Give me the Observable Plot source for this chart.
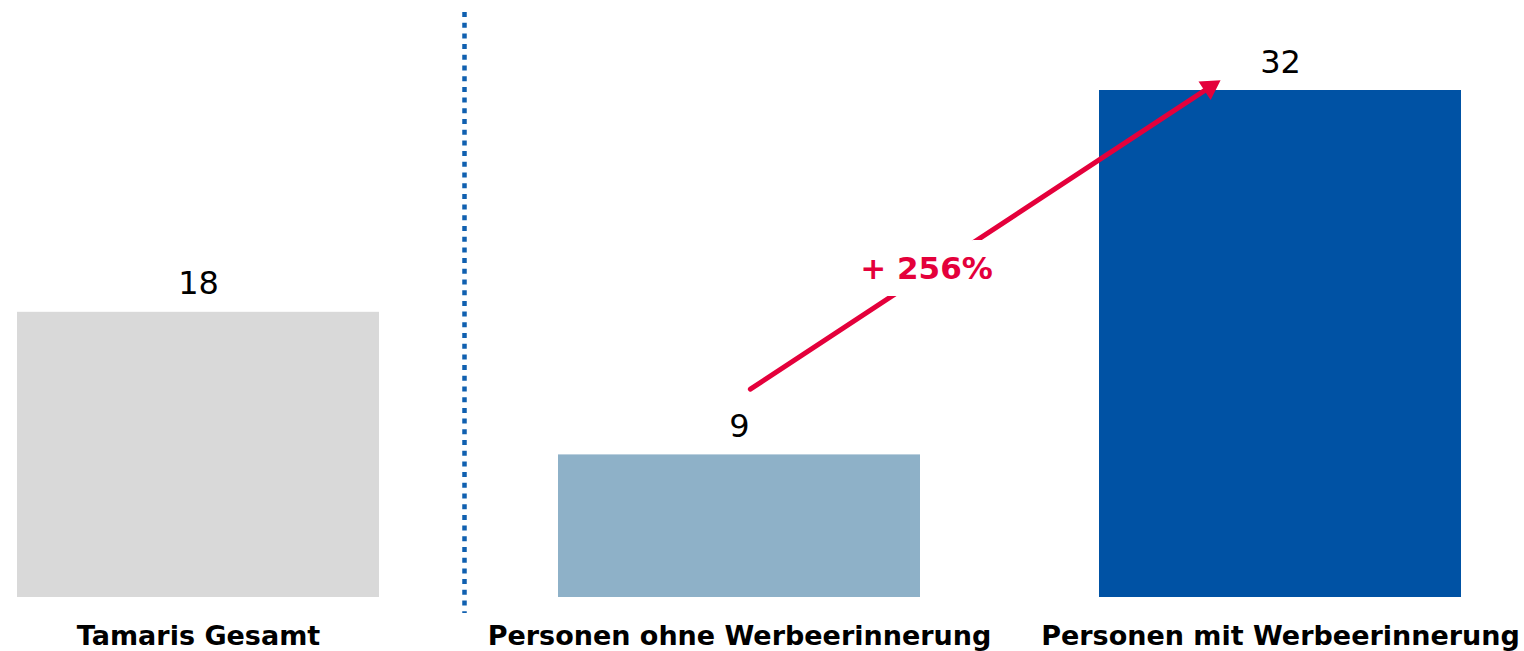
<!DOCTYPE html>
<html>
<head>
<meta charset="utf-8">
<script src="https://cdn.jsdelivr.net/npm/d3@7"></script>
<script src="https://cdn.jsdelivr.net/npm/@observablehq/plot@0.6"></script>
<style>
  html, body { margin: 0; padding: 0; background: #fff; }
  #chart svg { display: block; }
</style>
</head>
<body>
<div id="chart"></div>
<script>
const categories = ["Tamaris Gesamt", "Personen ohne Werbeerinnerung", "Personen mit Werbeerinnerung"];
const values = [18, 9, 32];
const barColors = ["#d9d9d9", "#8eb1c8", "#0052a4"];
const changeLabel = "+ 256%";
// arrow endpoints (value units)
const arrowFrom = {cat: categories[1], value: 12.7};
const arrowTo = {cat: categories[2], value: 35.15};
const changeLabelValue = 20.7;
const arrowHeadValue = 32.2;

const data = categories.map((c, i) => ({cat: c, value: values[i], color: barColors[i]}));

const chart = Plot.plot({
  width: 1524,
  height: 651,
  marginLeft: 16,
  marginRight: 63,
  marginTop: 90,
  marginBottom: 54,
  style: {fontFamily: "DejaVu Sans", color: "#000", background: "#fff"},
  x: {domain: categories, paddingInner: 0.331, paddingOuter: 0, align: 0.5, label: null},
  y: {domain: [0, 32], axis: null},
  marks: [
    Plot.barY(data, {x: "cat", y: "value", fill: "color"}),
    Plot.text(data, {x: "cat", y: "value", text: d => String(d.value), lineAnchor: "bottom", dy: -18, fontSize: 32, fill: "#000"}),
    Plot.ruleX([categories[0]], {dx: 266, insetTop: -78, insetBottom: -16, stroke: "#1060b0", strokeWidth: 4.5, strokeDasharray: "5 5.7"}),
    Plot.arrow([{x1: arrowFrom.cat, y1: arrowFrom.value, x2: arrowTo.cat, y2: arrowTo.value}], {
      x1: "x1", y1: "y1", x2: "x2", y2: "y2",
      insetStart: 13, insetEnd: 86, stroke: "#e4003b", strokeWidth: 5, headLength: 0
    }),
    Plot.dot([{cat: arrowTo.cat, v: arrowHeadValue}], {
      x: "cat", y: "v", dx: -70.6, symbol: "triangle", r: 8.2, rotate: 56.7,
      fill: "#e4003b", stroke: "none"
    }),
    Plot.text([{cat: categories[1], v: changeLabelValue, t: changeLabel}], {
      x: "cat", y: "v", text: "t", dx: 187, fontSize: 31, fontWeight: "bold",
      fill: "#e4003b", stroke: "#fff", strokeWidth: 34, strokeLinejoin: "miter"
    }),
    Plot.axisX({tickSize: 0, tickPadding: 28, fontSize: 27, fontWeight: "bold", label: null, fill: "#000"})
  ]
});
document.getElementById("chart").append(chart);
</script>
</body>
</html>
